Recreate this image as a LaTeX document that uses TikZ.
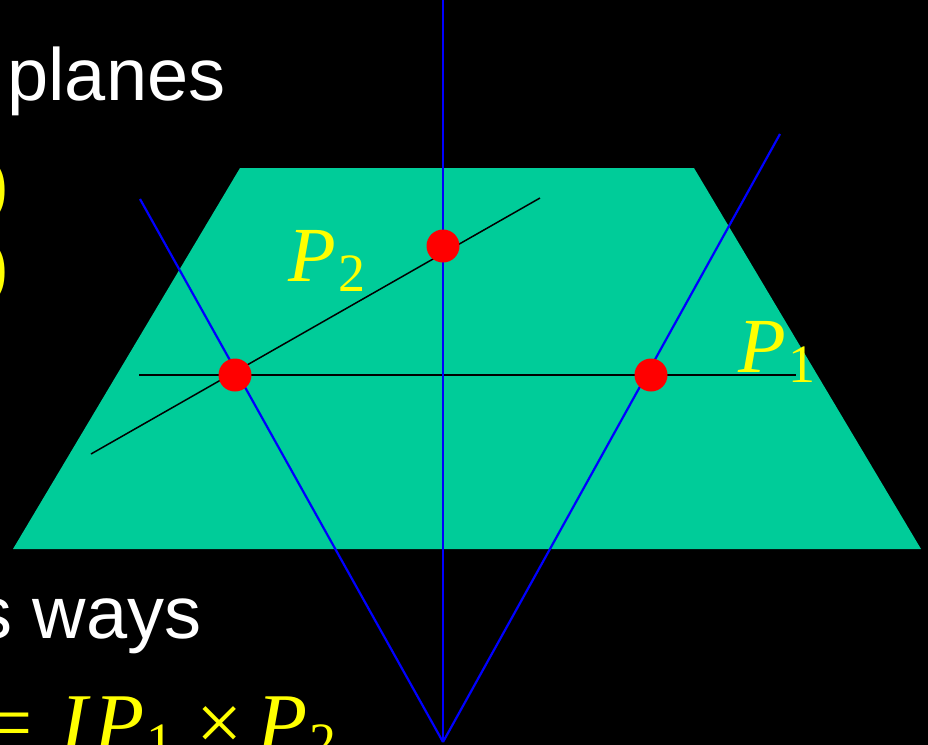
\documentclass[tikz,border=0pt]{standalone}
\usepackage{fontspec}
\setmainfont{Liberation Serif}
\newfontfamily\arialf{Liberation Sans}
\definecolor{planegreen}{RGB}{0,204,153}
\definecolor{ylw}{RGB}{255,255,0}
\definecolor{bluel}{RGB}{0,0,255}
\definecolor{redd}{RGB}{255,0,0}
\newcommand{\bigfont}{\fontsize{39}{42}\selectfont}
\newcommand{\eqfont}{\fontsize{41}{44}\selectfont}
\newcommand{\subfont}{\fontsize{27}{29}\selectfont}
\newcommand{\Psubs}[1]{{\itshape P}\kern1pt\raisebox{-5pt}{\subfont #1}}
\begin{document}
\begin{tikzpicture}[x=0.5pt,y=-0.5pt,
  bluel/.style={draw=bluel,line width=1.1pt},
  blackl/.style={draw=black,line width=0.75pt},
  dotn/.style={circle,fill=redd,inner sep=0pt,minimum size=16.5pt},
  whitetxt/.style={text=white,inner sep=0pt,anchor=base west,font=\arialf\fontsize{37}{40}\selectfont},
  ylwtxt/.style={text=ylw,inner sep=0pt,anchor=base west,font=\bigfont},
  eqtxt/.style={text=ylw,inner sep=0pt,anchor=base west,font=\eqfont}]
\useasboundingbox (0,0) rectangle (928,745);
\fill[black] (0,0) rectangle (928,745);
\clip (0,0) rectangle (928,745);
% plane
\coordinate (tl) at (240,168);
\coordinate (tr) at (694,168);
\coordinate (br) at (921,549);
\coordinate (bl) at (13,549);
\fill[planegreen] (tl) -- (tr) -- (br) -- (bl) -- cycle;
% lines
\coordinate (apex) at (443,742);
\coordinate (vtop) at (443,0);
\coordinate (ltop) at (140,199);
\coordinate (rtop) at (780,134);
\coordinate (hl) at (139,375);
\coordinate (hr) at (796,375);
\coordinate (dl) at (91,454);
\coordinate (dr) at (540,198);
\draw[blackl] (hl) -- (hr);
\draw[blackl] (dl) -- (dr);
\draw[bluel] (vtop) -- (apex);
\draw[bluel] (ltop) -- (apex);
\draw[bluel] (rtop) -- (apex);
% points
\node[dotn] (pa) at (235,375) {};
\node[dotn] (pb) at (443,246) {};
\node[dotn] (pc) at (651,375) {};
% labels
\node[ylwtxt] (lp1) at (738,372) {\Psubs{1}};
\node[ylwtxt] (lp2) at (288,281) {\Psubs{2}};
% text
\node[whitetxt] (t1) at (7,100) {planes};
\node[whitetxt] (t2) at (-25,638) {s ways};
\node[ylwtxt] (pr1) at (-18,209) {)};
\node[ylwtxt] (pr2) at (-18,291) {)};
\node[eqtxt] (eq) at (-14,750) {=};
\node[eqtxt] (eqI) at (60,750) {\itshape I};
\node[eqtxt] (eqP1) at (94,750) {\Psubs{1}};
\node[eqtxt] (eqx) at (196,750) {×};
\node[eqtxt] (eqP2) at (257,750) {\Psubs{2}};
\end{tikzpicture}
\end{document}
